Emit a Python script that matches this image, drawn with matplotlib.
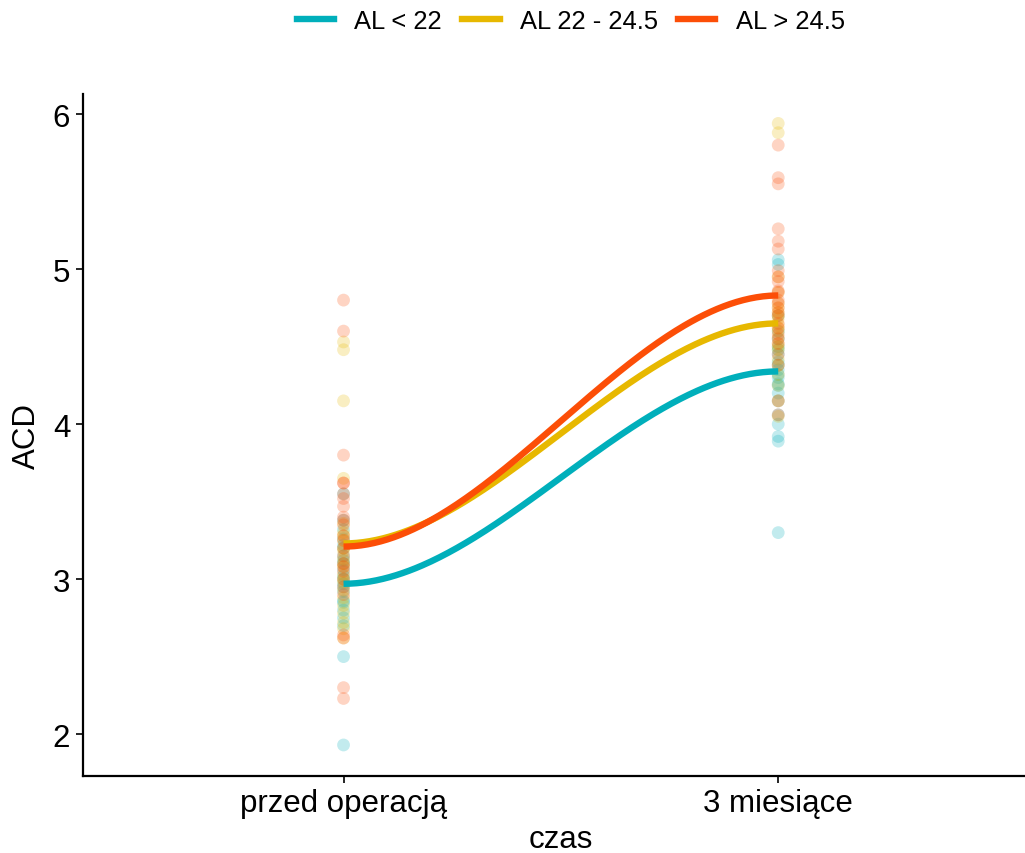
import numpy as np
import matplotlib
matplotlib.use("Agg")
from matplotlib import pyplot as plt
from matplotlib.lines import Line2D

plt.rcParams['font.family'] = ['Liberation Sans', 'DejaVu Sans']

# data
groups = ['AL < 22', 'AL 22 - 24.5', 'AL > 24.5']
colors = ['#00AFBB', '#E7B800', '#FC4E07']
time_labels = ['przed operacją', '3 miesiące']

pre_short = [1.93, 2.50, 2.70, 2.75, 2.80, 2.85, 2.86, 2.92, 2.95, 2.97,
             3.00, 3.02, 3.06, 3.10, 3.12, 3.15, 3.20, 3.22, 3.26, 3.32,
             3.38, 3.55]
post_short = [3.30, 3.89, 3.92, 4.00, 4.06, 4.15, 4.20, 4.25, 4.26, 4.30,
              4.32, 4.35, 4.38, 4.40, 4.45, 4.48, 4.50, 4.55, 4.60, 4.70,
              5.03, 5.06]

pre_mid = [2.62, 2.68, 2.72, 2.78, 2.83, 2.88, 2.93, 2.98, 3.00, 3.03,
           3.08, 3.10, 3.13, 3.18, 3.20, 3.25, 3.28, 3.30, 3.36, 3.65,
           4.15, 4.48, 4.53]
post_mid = [5.94, 5.88, 4.05, 4.15, 4.25, 4.32, 4.38, 4.42, 4.48, 4.50,
            4.52, 4.56, 4.60, 4.62, 4.64, 4.68, 4.70, 4.72, 4.75, 4.78,
            4.85, 4.95]

pre_long = [2.23, 2.30, 2.62, 2.64, 2.90, 2.95, 3.00, 3.05, 3.08, 3.10,
            3.15, 3.20, 3.25, 3.28, 3.35, 3.38, 3.40, 3.47, 3.52, 3.55,
            3.62, 3.62, 3.80, 4.60, 4.80]
post_long = [5.80, 5.59, 5.55, 5.26, 5.18, 5.13, 4.99, 4.95, 4.92, 4.86,
             4.85, 4.80, 4.78, 4.75, 4.72, 4.70, 4.65, 4.62, 4.58, 4.55,
             4.52, 4.45, 4.38, 4.15, 4.06]

# smoothed line end values
line_start = [2.97, 3.23, 3.21]
line_end = [4.34, 4.65, 4.83]

pre = [pre_short, pre_mid, pre_long]
post = [post_short, post_mid, post_long]

fig = plt.figure(figsize=(10.25, 8.54), dpi=100)
ax = fig.add_axes([0.0807, 0.0902, 0.933, 0.7986])

for i in range(3):
    ax.scatter([1] * len(pre[i]), pre[i], s=85, color=colors[i], alpha=0.24,
               edgecolors='none')
    ax.scatter([2] * len(post[i]), post[i], s=85, color=colors[i], alpha=0.24,
               edgecolors='none')

t = np.linspace(0, 1, 200)
ease = 3 * t**2 - 2 * t**3
for i in range(3):
    ax.plot(1 + t, line_start[i] + (line_end[i] - line_start[i]) * ease,
            color=colors[i], linewidth=4.6, solid_capstyle='butt')

ax.set_xlim(0.4, 2.6)
ax.set_ylim(1.73, 6.13)
ax.set_xticks([1, 2])
ax.set_xticklabels(time_labels)
ax.set_yticks([2, 3, 4, 5, 6])
ax.tick_params(labelsize=22.5, length=5, width=1.2, colors='black', pad=4)
ax.spines['top'].set_visible(False)
ax.spines['right'].set_visible(False)
ax.spines['left'].set_linewidth(1.6)
ax.spines['bottom'].set_linewidth(1.6)
ax.set_xlabel('czas', fontsize=22.5, labelpad=4)
ax.set_ylabel('ACD', fontsize=22.5, labelpad=8)

handles = [Line2D([0], [0], color=c, linewidth=4.6) for c in colors]
fig.legend(handles, groups, loc='center', bbox_to_anchor=(0.557, 0.974),
           ncol=3, frameon=False, fontsize=18.4, handlelength=1.45,
           columnspacing=0.8, handletextpad=0.8)

fig.savefig('out.png', dpi=100)
